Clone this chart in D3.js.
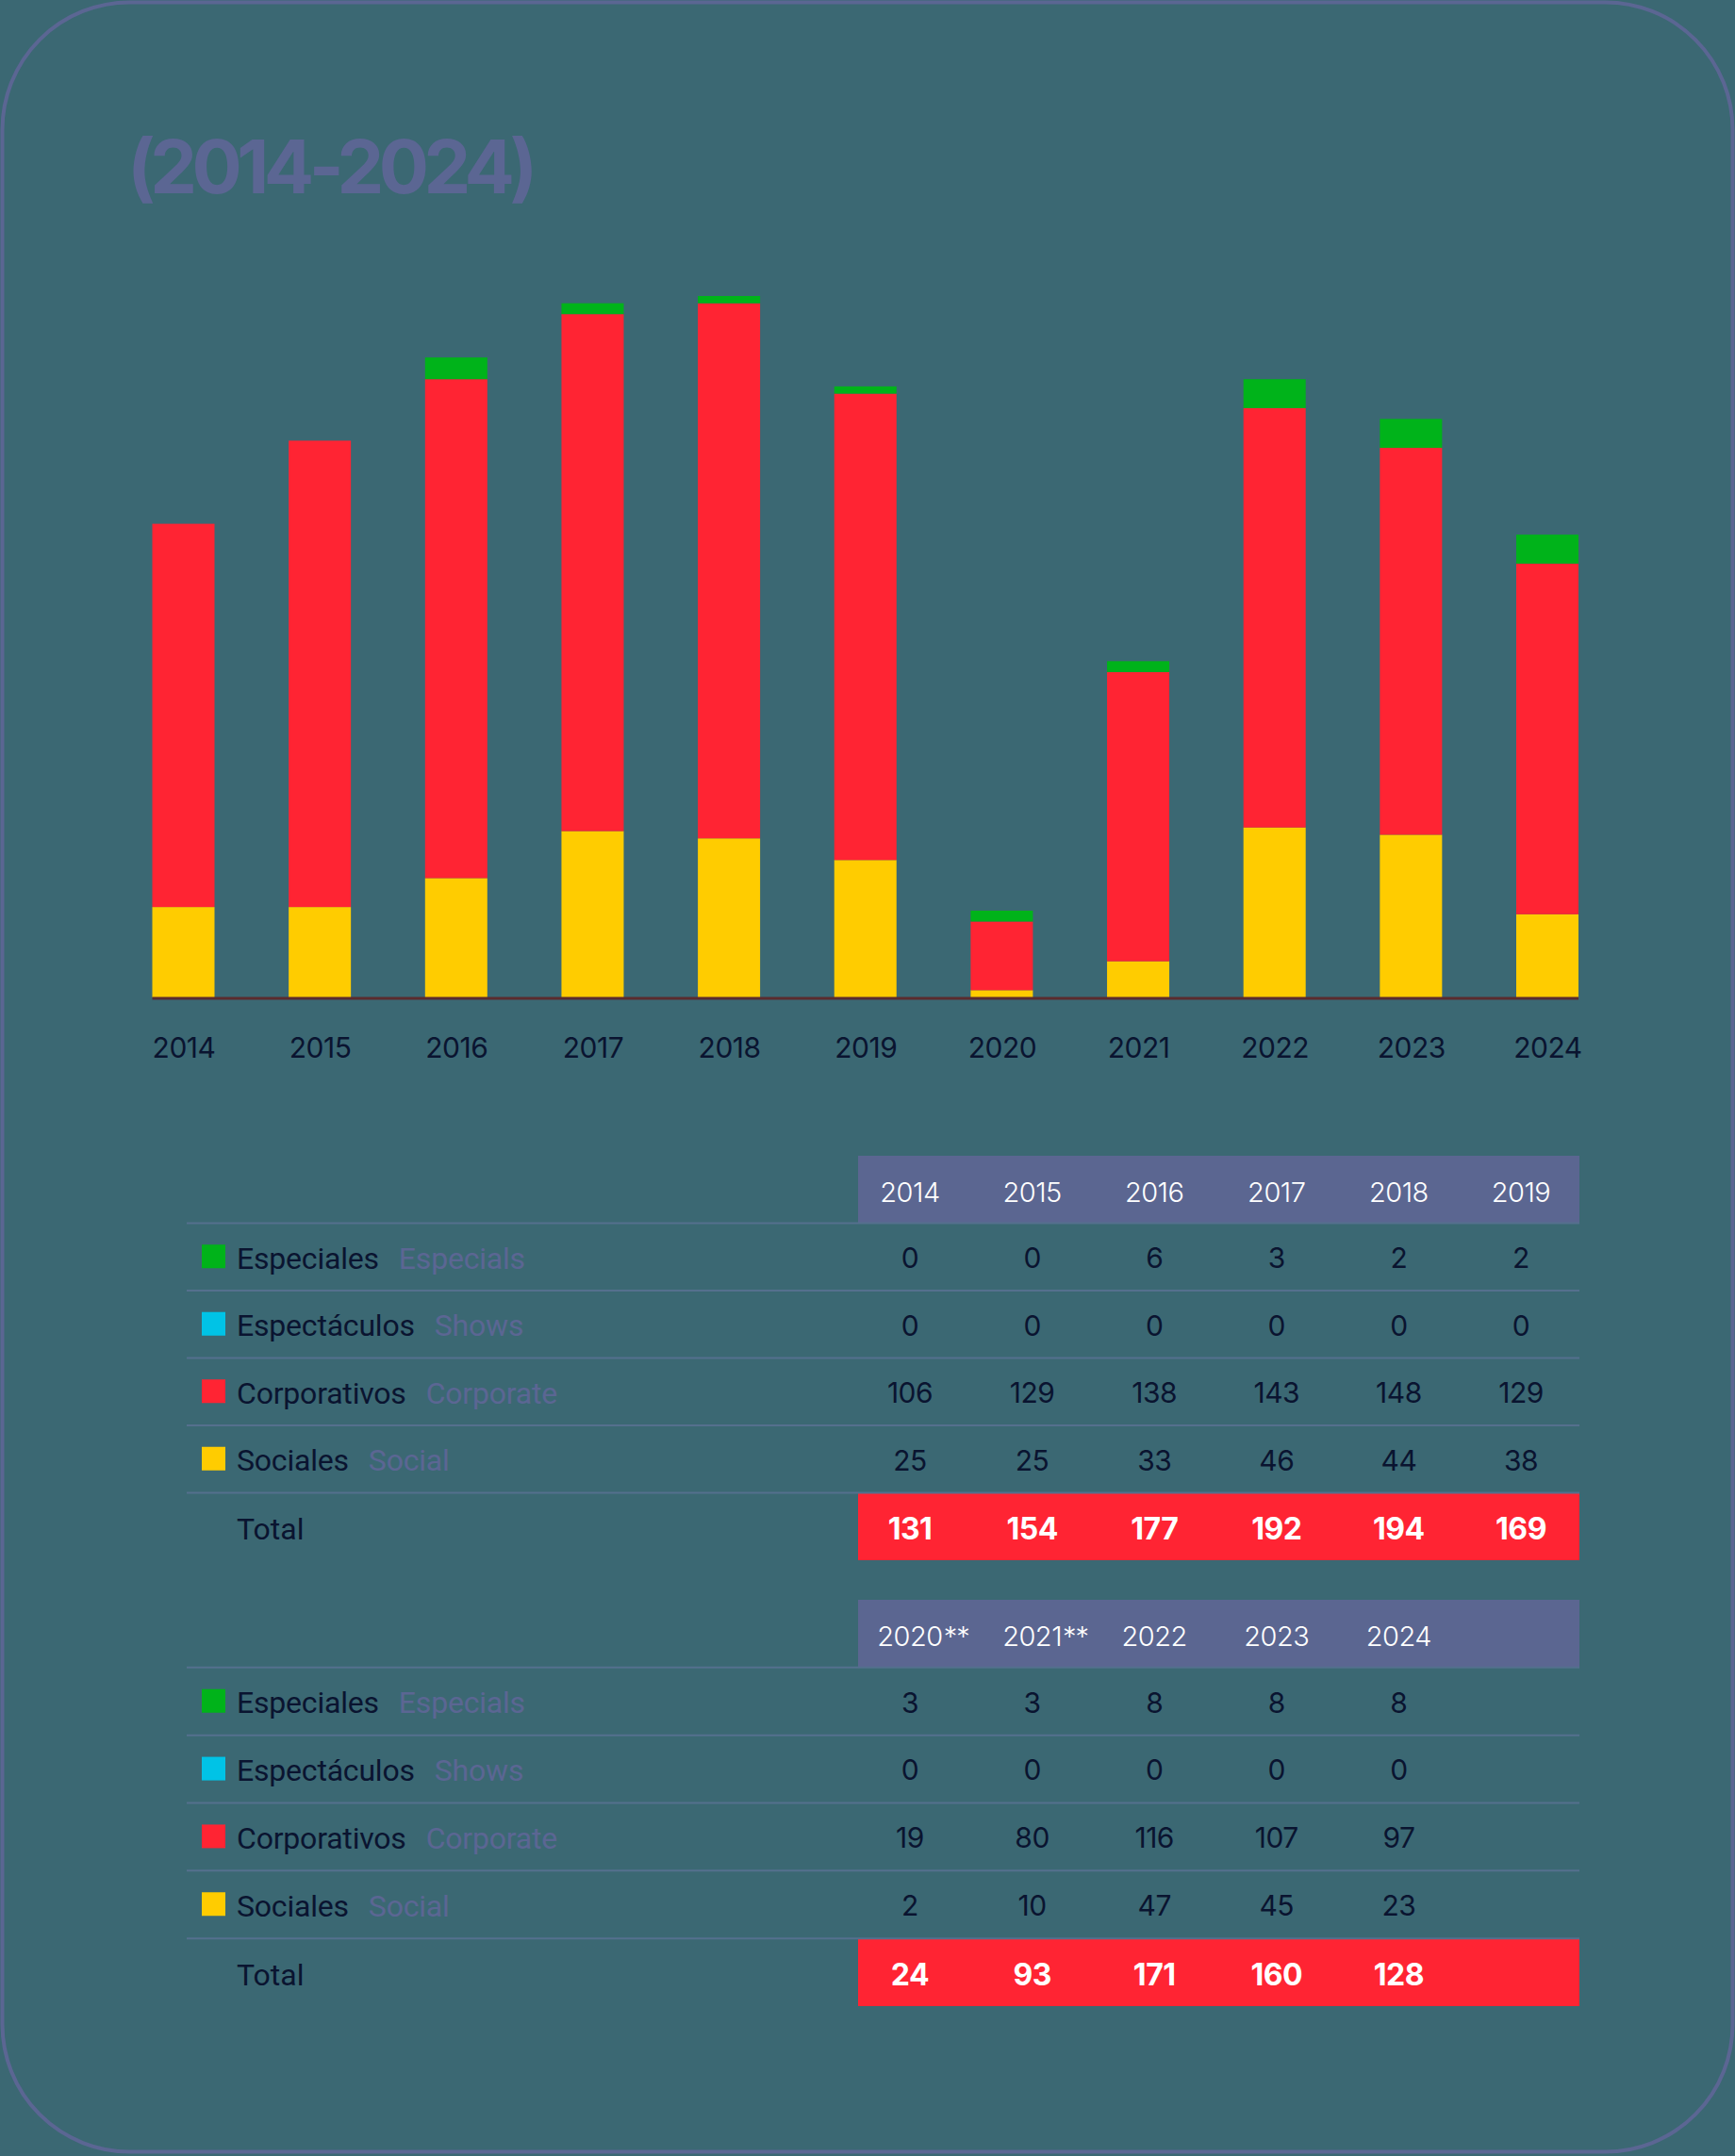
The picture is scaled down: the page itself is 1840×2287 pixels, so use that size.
<!DOCTYPE html>
<html>
<head>
<meta charset="utf-8">
<script src="https://cdn.jsdelivr.net/npm/d3@7"></script>
<style>
  html, body { margin: 0; padding: 0; background: #3b6873; }
  svg { display: block; }
</style>
</head>
<body>
<svg id="chart" width="1840" height="2287"></svg>
<script>
// ---------- DATA ----------
const years = ["2014","2015","2016","2017","2018","2019","2020","2021","2022","2023","2024"];
const especiales   = [0, 0, 6, 3, 2, 2, 3, 3, 8, 8, 8];
const espectaculos = [0, 0, 0, 0, 0, 0, 0, 0, 0, 0, 0];
const corporativos = [106, 129, 138, 143, 148, 129, 19, 80, 116, 107, 97];
const sociales     = [25, 25, 33, 46, 44, 38, 2, 10, 47, 45, 23];
const seriesKeys    = ["especiales", "espectaculos", "corporativos", "sociales"];
const seriesNames   = ["Especiales", "Espectáculos", "Corporativos", "Sociales"];
const seriesEnglish = ["Especials", "Shows", "Corporate", "Social"];
const headerLabels1 = ["2014","2015","2016","2017","2018","2019"];
const headerLabels2 = ["2020**","2021**","2022","2023","2024"];
const titleText = "(2014-2024)";
const totalLabel = "Total";

// ---------- STYLE ----------
const C = {
  bg: "#3b6873", border: "#5b6693", title: "#5b6693",
  especiales: "#00b31a", espectaculos: "#00c3e6", corporativos: "#ff2433", sociales: "#ffcc00",
  axis: "#5a2b2e", dark: "#0a1430", header: "#5b6691", sep: "#55708e", english: "#5b6693"
};
const numFont = "Inter, 'Noto Sans', sans-serif";
const labFont = "Roboto, 'Noto Sans', sans-serif";

const svg = d3.select("#chart");

// card
svg.append("rect").attr("x", 2.5).attr("y", 2.5).attr("width", 1835).attr("height", 2280)
  .attr("rx", 135).attr("ry", 135).attr("fill", C.bg).attr("stroke", C.border).attr("stroke-width", 4);

// title
svg.append("text").attr("x", 135).attr("y", 205).text(titleText)
  .attr("font-family", "Inter, Roboto, sans-serif").attr("font-weight", 700)
  .attr("font-size", 79).attr("letter-spacing", -5.5).attr("fill", C.title);

// ---------- BAR CHART ----------
const table = years.map((yr, i) => ({
  year: yr, especiales: especiales[i], espectaculos: espectaculos[i],
  corporativos: corporativos[i], sociales: sociales[i]
}));
const stack = d3.stack().keys(["sociales", "espectaculos", "corporativos", "especiales"]);
const stacked = stack(table);

const x = d3.scalePoint().domain(years).range([194.5, 1641]);
const y = d3.scaleLinear().domain([0, 194]).range([1058, 314]);
const barW = 66;

const gBars = svg.append("g");
gBars.selectAll("g.series").data(stacked).join("g")
  .attr("fill", d => C[d.key])
  .selectAll("rect").data(d => d).join("rect")
  .attr("x", d => x(d.data.year) - barW / 2)
  .attr("width", barW)
  .attr("y", d => y(d[1]))
  .attr("height", d => y(d[0]) - y(d[1]));

// baseline
svg.append("line").attr("x1", x(years[0]) - barW / 2).attr("x2", x(years[years.length - 1]) + barW / 2)
  .attr("y1", y(0) + 1).attr("y2", y(0) + 1).attr("stroke", C.axis).attr("stroke-width", 3);

const xAxis = svg.append("g").attr("transform", `translate(0,${y(0)})`)
  .call(d3.axisBottom(x).tickSize(0).tickPadding(43));
xAxis.select(".domain").remove();
xAxis.selectAll("text").attr("font-family", numFont).attr("font-size", 30)
  .attr("fill", C.dark).attr("letter-spacing", -0.5);

// ---------- TABLES ----------
function drawTable(top, bottom, headers, startIdx) {
  const rows = ["header", ...seriesKeys, "total"];
  const ry = d3.scaleBand().domain(rows).range([top, bottom]);
  const cx = d3.scalePoint().domain(d3.range(6)).range([965, 1613]);
  const g = svg.append("g");
  const bandX0 = 910, bandX1 = 1675;

  // header band
  g.append("rect").attr("x", bandX0).attr("y", ry("header")).attr("width", bandX1 - bandX0)
    .attr("height", ry.bandwidth()).attr("fill", C.header);
  // total band
  g.append("rect").attr("x", bandX0).attr("y", ry("total")).attr("width", bandX1 - bandX0)
    .attr("height", ry.bandwidth()).attr("fill", C.corporativos);

  // separators
  g.selectAll("line.sep").data([...seriesKeys, "total"]).join("line")
    .attr("x1", 198).attr("x2", bandX1)
    .attr("y1", d => ry(d)).attr("y2", d => ry(d))
    .attr("stroke", C.sep).attr("stroke-width", 2);

  // header text: year centred on the column, footnote marks hanging to the right
  headers.forEach((h, i) => {
    const base = h.replace(/\*+$/, "");
    const mark = h.slice(base.length);
    const t = g.append("text")
      .attr("x", cx(i)).attr("y", ry("header") + ry.bandwidth() / 2 + 3)
      .attr("dy", "0.36em").attr("text-anchor", "middle")
      .attr("font-family", numFont).attr("font-weight", 300).attr("font-size", 29)
      .attr("fill", "#ffffff").attr("letter-spacing", -0.5).text(base);
    if (mark) {
      const w = t.node().getComputedTextLength();
      g.append("text").attr("x", cx(i) + w / 2 + 1).attr("y", ry("header") + ry.bandwidth() / 2 + 3)
        .attr("dy", "0.36em")
        .attr("font-family", numFont).attr("font-weight", 300).attr("font-size", 29)
        .attr("fill", "#ffffff").attr("letter-spacing", -1).text(mark);
    }
  });

  const dataMap = { especiales, espectaculos, corporativos, sociales };
  seriesKeys.forEach((k, si) => {
    const cy = ry(k) + ry.bandwidth() / 2;
    g.append("rect").attr("x", 214).attr("y", cy - 13).attr("width", 25).attr("height", 25).attr("fill", C[k]);
    const t = g.append("text").attr("x", 251).attr("y", cy + 1).attr("dy", "0.36em")
      .attr("font-family", labFont).attr("font-size", 32).attr("fill", C.dark)
      .attr("letter-spacing", -0.2).text(seriesNames[si]);
    const w = t.node().getComputedTextLength();
    g.append("text").attr("x", 251 + w + 21).attr("y", cy + 1).attr("dy", "0.36em")
      .attr("font-family", labFont).attr("font-size", 32).attr("fill", C.english)
      .attr("letter-spacing", -0.2).text(seriesEnglish[si]);
    const vals = dataMap[k].slice(startIdx, startIdx + headers.length);
    g.selectAll(null).data(vals).join("text")
      .attr("x", (d, i) => cx(i)).attr("y", cy + 1).attr("dy", "0.36em").attr("text-anchor", "middle")
      .attr("font-family", numFont).attr("font-size", 30).attr("fill", C.dark)
      .attr("letter-spacing", -0.5).text(d => d);
  });

  const cyT = ry("total") + ry.bandwidth() / 2 + 2;
  g.append("text").attr("x", 251).attr("y", cyT).attr("dy", "0.36em")
    .attr("font-family", labFont).attr("font-size", 32).attr("fill", C.dark).text(totalLabel);
  const totals = table.slice(startIdx, startIdx + headers.length)
    .map(d => d.especiales + d.espectaculos + d.corporativos + d.sociales);
  g.selectAll(null).data(totals).join("text")
    .attr("x", (d, i) => cx(i)).attr("y", cyT).attr("dy", "0.36em").attr("text-anchor", "middle")
    .attr("font-family", numFont).attr("font-weight", 700).attr("font-size", 32).attr("fill", "#ffffff")
    .attr("letter-spacing", -0.5).text(d => d);
}

drawTable(1226, 1655, headerLabels1, 0);
drawTable(1697, 2128, headerLabels2, 6);
</script>
</body>
</html>
